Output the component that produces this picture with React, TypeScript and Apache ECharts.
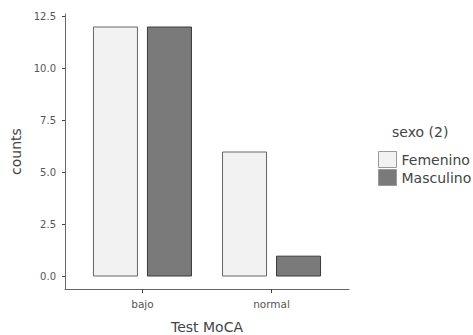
import React, { useEffect, useRef } from "react";
import * as echarts from "echarts";

const categories = ["bajo", "normal"];
const femenino = [12, 6];
const masculino = [12, 1];
const yTicks = [0, 2.5, 5, 7.5, 10, 12.5];
const seriesNames = ["Femenino", "Masculino"];

export default function App() {
  const ref = useRef<HTMLDivElement>(null);
  useEffect(() => {
    if (!ref.current) return;
    const chart = echarts.init(ref.current, null, { renderer: "svg" });
    const font = "DejaVu Sans, Liberation Sans, Arial, sans-serif";
    chart.setOption({
      animation: false,
      textStyle: { fontFamily: font },
      grid: { left: 65, right: 124, top: 14, bottom: 46, outerBoundsMode: "none", containLabel: false },
      xAxis: {
        type: "value",
        min: 0.4,
        max: 2.6,
        name: "Test MoCA",
        nameLocation: "middle",
        nameGap: 31,
        nameTextStyle: { fontSize: 14, color: "#444", fontFamily: font },
        axisLine: { show: true, onZero: false, lineStyle: { color: "#666", width: 1 } },
        axisTick: { show: true, length: 4, customValues: [1, 2], lineStyle: { color: "#444" } },
        axisLabel: {
          customValues: [1, 2],
          formatter: (v: number) => categories[Math.round(v) - 1] ?? "",
          fontSize: 10.5,
          color: "#555",
          margin: 9,
          fontFamily: font,
        },
        splitLine: { show: false },
      },
      yAxis: {
        type: "value",
        min: -0.6,
        max: 12.6,
        name: "counts",
        nameLocation: "middle",
        nameGap: 42,
        nameTextStyle: { fontSize: 14, color: "#444", fontFamily: font },
        axisLine: { show: true, onZero: false, lineStyle: { color: "#666", width: 1 } },
        axisTick: { show: true, length: 3, customValues: yTicks, lineStyle: { color: "#444" } },
        axisLabel: {
          customValues: yTicks,
          formatter: (v: number) => v.toFixed(1),
          fontSize: 10,
          color: "#555",
          margin: 9,
          fontFamily: font,
        },
        splitLine: { show: false },
      },
      legend: {
        orient: "vertical",
        left: 373,
        top: 146,
        icon: "rect",
        itemWidth: 18,
        itemHeight: 16,
        itemGap: 1,
        itemStyle: { borderWidth: 1, borderColor: "#999" },
        textStyle: { fontSize: 14, color: "#444", fontFamily: font },
        data: seriesNames,
      },
      graphic: [
        {
          type: "text",
          left: 392,
          top: 125,
          style: { text: "sexo (2)", fontSize: 14, fill: "#444", fontFamily: font },
        },
      ],
      series: [
        {
          name: seriesNames[0],
          type: "bar",
          barWidth: 45,
          barGap: "20%",
          data: femenino.map((v, i) => [i + 1, v]),
          itemStyle: { color: "#f2f2f2", borderColor: "#666", borderWidth: 1 },
        },
        {
          name: seriesNames[1],
          type: "bar",
          barWidth: 45,
          barGap: "20%",
          data: masculino.map((v, i) => [i + 1, v]),
          itemStyle: { color: "#7a7a7a", borderColor: "#3a3a3a", borderWidth: 1 },
        },
      ],
    });
    return () => chart.dispose();
  }, []);
  return <div ref={ref} style={{ width: 473, height: 335, position: "absolute", left: 0, top: 0 }} />;
}
